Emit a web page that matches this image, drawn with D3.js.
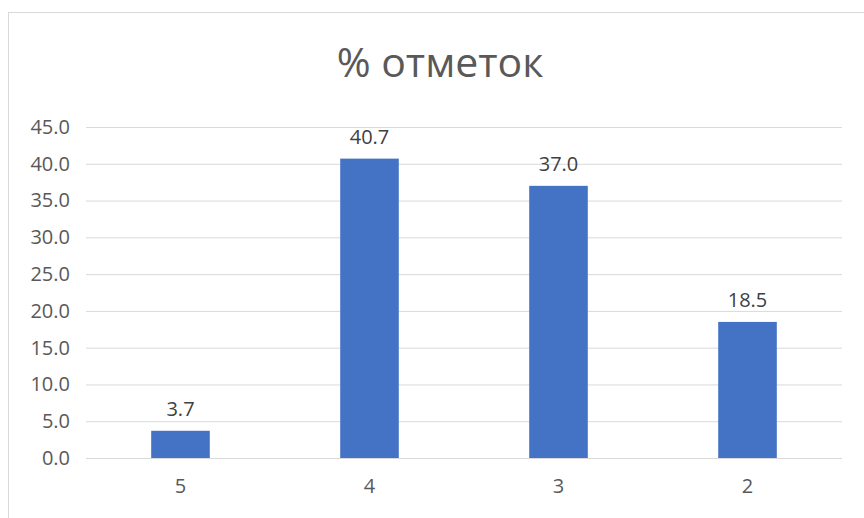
<!DOCTYPE html>
<html>
<head>
<meta charset="utf-8">
<script src="https://cdn.jsdelivr.net/npm/d3@7"></script>
<style>
  body { margin: 0; background: #fff; }
  text { font-family: "Open Sans", sans-serif; }
</style>
</head>
<body>
<script>
// chart data
var categories = ["5", "4", "3", "2"];
var values = [3.7, 40.7, 37.0, 18.5];
var yTicks = [0, 5, 10, 15, 20, 25, 30, 35, 40, 45];
var title = "% отметок";

var W = 864, H = 518;
var margin = {left: 86, right: 22, top: 127, bottom: 60};

var svg = d3.select("body").append("svg")
    .attr("width", W)
    .attr("height", H);

// chart frame
svg.append("rect")
    .attr("x", 8.5).attr("y", 12.5)
    .attr("width", 880).attr("height", 540)
    .attr("fill", "#fff")
    .attr("stroke", "#d9d9d9");

var x = d3.scaleBand()
    .domain(categories)
    .range([margin.left, W - margin.right])
    .paddingInner(0.69)
    .paddingOuter(0.345);

var y = d3.scaleLinear()
    .domain([0, 45])
    .range([H - margin.bottom, margin.top]);

// gridlines
svg.append("g")
    .attr("transform", "translate(" + margin.left + ",0)")
    .call(d3.axisLeft(y).tickValues(yTicks).tickSize(-(W - margin.left - margin.right)).tickFormat(""))
    .call(function(g) { g.select(".domain").remove(); })
    .selectAll("line").attr("stroke", "#d9d9d9").attr("stroke-width", 1);

// y labels
svg.append("g")
    .attr("transform", "translate(" + margin.left + ",0)")
    .call(d3.axisLeft(y).tickValues(yTicks).tickSize(0).tickPadding(16).tickFormat(d3.format(".1f")))
    .call(function(g) { g.select(".domain").remove(); })
    .selectAll("text")
        .attr("fill", "#595959")
        .attr("font-size", "20px");

// x labels
svg.append("g")
    .attr("transform", "translate(0," + (H - margin.bottom) + ")")
    .call(d3.axisBottom(x).tickSize(0).tickPadding(21))
    .call(function(g) { g.select(".domain").remove(); })
    .selectAll("text")
        .attr("fill", "#595959")
        .attr("font-size", "20px");

// bars
svg.selectAll("rect.bar")
    .data(values)
    .join("rect")
        .attr("class", "bar")
        .attr("x", function(d, i) { return x(categories[i]); })
        .attr("width", x.bandwidth())
        .attr("y", function(d) { return y(d); })
        .attr("height", function(d) { return y(0) - y(d); })
        .attr("fill", "#4472c4");

// value labels
svg.selectAll("text.val")
    .data(values)
    .join("text")
        .attr("class", "val")
        .attr("x", function(d, i) { return x(categories[i]) + x.bandwidth() / 2; })
        .attr("y", function(d) { return y(d) - 15; })
        .attr("text-anchor", "middle")
        .attr("fill", "#404040")
        .attr("font-size", "20px")
        .text(function(d) { return d3.format(".1f")(d); });

// title
svg.append("text")
    .attr("x", 440)
    .attr("y", 77)
    .attr("text-anchor", "middle")
    .attr("fill", "#595959")
    .attr("font-size", "41px")
    .text(title);
</script>
</body>
</html>
